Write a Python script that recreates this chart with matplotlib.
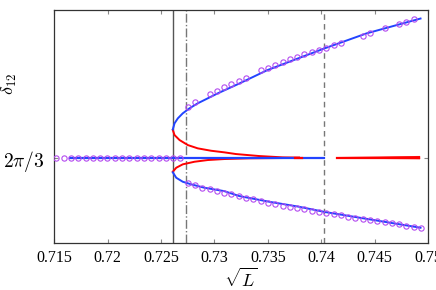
import numpy as np
import matplotlib
matplotlib.use("Agg")
import matplotlib.pyplot as plt

plt.rcParams['font.family'] = ['Liberation Serif', 'DejaVu Serif']
plt.rcParams['mathtext.fontset'] = 'cm'

Y0 = 2 * np.pi / 3

# vertical reference lines (sqrt L)
x_fold = 0.7261
x_dashdot = 0.7273
x_dashed = 0.7403

# upper stable branch (blue)
up_blue_x = [0.72610, 0.72626, 0.72657, 0.72703, 0.72766, 0.72843, 0.72937, 0.73027,
             0.73232, 0.73493, 0.73792, 0.74032, 0.74426, 0.74930]
up_blue_y = [2.378, 2.438, 2.488, 2.538, 2.588, 2.638, 2.688, 2.736,
             2.836, 2.969, 3.091, 3.188, 3.338, 3.486]

# lower stable branch (blue)
lo_blue_x = [0.72610, 0.72642, 0.72703, 0.72782, 0.72906, 0.73092, 0.73232, 0.73512,
             0.73792, 0.74032, 0.74930]
lo_blue_y = [1.948, 1.894, 1.854, 1.828, 1.794, 1.760, 1.711, 1.654,
             1.604, 1.552, 1.394]

# unstable branches (red)
up_red_x = [0.72610, 0.72626, 0.72673, 0.72750, 0.72843, 0.72968, 0.73092, 0.73201,
            0.73419, 0.73636, 0.73792]
up_red_y = [2.371, 2.321, 2.271, 2.221, 2.188, 2.164, 2.148, 2.131,
            2.111, 2.098, 2.0944]
lo_red_x = [0.72610, 0.72642, 0.72703, 0.72813, 0.72937, 0.73092, 0.73326, 0.73636, 0.73792]
lo_red_y = [1.954, 1.994, 2.028, 2.054, 2.071, 2.081, 2.088, 2.091, 2.0944]

# symmetric state (blue) and unstable continuation (red)
sym_blue_x = [0.7165, 0.7403]
red_right_x = [0.7415, 0.7492]
red_right_hi = [2.0944, 2.118]
red_right_lo = [2.0944, 2.080]

# simulation markers
marker_x = np.linspace(0.7152, 0.74935, 51)
center_y = [Y0] * 18
upper_y = [2.604, 2.651, np.nan, 2.728, 2.764, 2.804, 2.831, 2.864, 2.894, np.nan,
           2.968, 2.996, 3.024, 3.051, 3.078, 3.104, 3.128, 3.148, 3.171, 3.194,
           3.218, 3.244, np.nan, np.nan, 3.316, 3.338, np.nan, 3.388, np.nan, 3.431,
           3.456, 3.478, np.nan]
lower_y = [1.838, 1.821, 1.794, 1.778, 1.761, 1.738, 1.728, 1.711, 1.694, 1.678,
           1.661, 1.644, 1.631, 1.614, 1.601, 1.591, 1.578, 1.564, 1.554, 1.538,
           1.528, 1.518, 1.504, 1.494, 1.481, 1.471, 1.458, 1.448, 1.438, 1.428,
           1.414, 1.398, 1.388]

fig = plt.figure(figsize=(4.36, 2.90), dpi=100)
ax = fig.add_axes([54.3/436, 1-243/290, (428-54.3)/436, (243-9.7)/290])

blue = '#2244ff'
red = '#ff0000'
purple = '#b44cf0'

ax.axvline(x_fold, color='#555555', lw=1.0, zorder=1)
ax.axvline(x_dashdot, color='#777777', lw=1.0, ls='-.', zorder=1)
ax.axvline(x_dashed, color='#777777', lw=1.0, ls=(0, (4, 3)), zorder=1)

ax.plot(up_red_x, up_red_y, color=red, lw=1.4, zorder=2)
ax.plot(lo_red_x, lo_red_y, color=red, lw=1.4, zorder=2)
ax.plot(sym_blue_x, [Y0, Y0], color=blue, lw=1.6, zorder=3)
ax.plot([0.7375, 0.7382], [Y0, Y0], color=red, lw=1.6, zorder=3.5)
ax.plot(up_blue_x, up_blue_y, color=blue, lw=1.4, zorder=3)
ax.plot(lo_blue_x, lo_blue_y, color=blue, lw=1.4, zorder=3)
ax.fill_between(red_right_x, red_right_lo, red_right_hi, color=red, alpha=0.35, lw=0, zorder=2)
ax.plot(red_right_x, [Y0, Y0], color=red, lw=1.6, zorder=3)
ax.plot(red_right_x, [Y0, 2.104], color=red, lw=1.0, zorder=3)
ax.plot(red_right_x, [Y0, 2.088], color=red, lw=1.0, zorder=3)

mk = dict(ls='none', marker='o', ms=3.8, mfc='none', mec=purple, mew=0.8, zorder=4)
ax.plot(marker_x[:18], center_y, **mk)
ax.plot(marker_x[18:], upper_y, **mk)
ax.plot(marker_x[18:], lower_y, **mk)

ax.set_xlim(0.715, 0.75)
ax.set_ylim(1.2414, 3.5744)
ax.set_xticks([0.715, 0.72, 0.725, 0.73, 0.735, 0.74, 0.745, 0.75])
ax.set_xticklabels(['0.715', '0.72', '0.725', '0.73', '0.735', '0.74', '0.745', '0.75'])
ax.set_yticks([Y0])
ax.set_yticklabels([r'$2\pi/3$'])
ax.tick_params(direction='in', length=3, width=0.8, color='#888888',
               top=True, right=True, labelsize=11.5, pad=5)
ax.tick_params(axis='y', labelsize=14, pad=7)
for s in ax.spines.values():
    s.set_color('#333333')
    s.set_linewidth(0.9)

ax.set_xlabel(r'$\sqrt{L}$', fontsize=13, labelpad=1)
ax.set_ylabel(r'$\delta_{12}$', fontsize=13)
ax.yaxis.set_label_coords(-0.095, 0.68)

fig.savefig('out.png', dpi=100)
